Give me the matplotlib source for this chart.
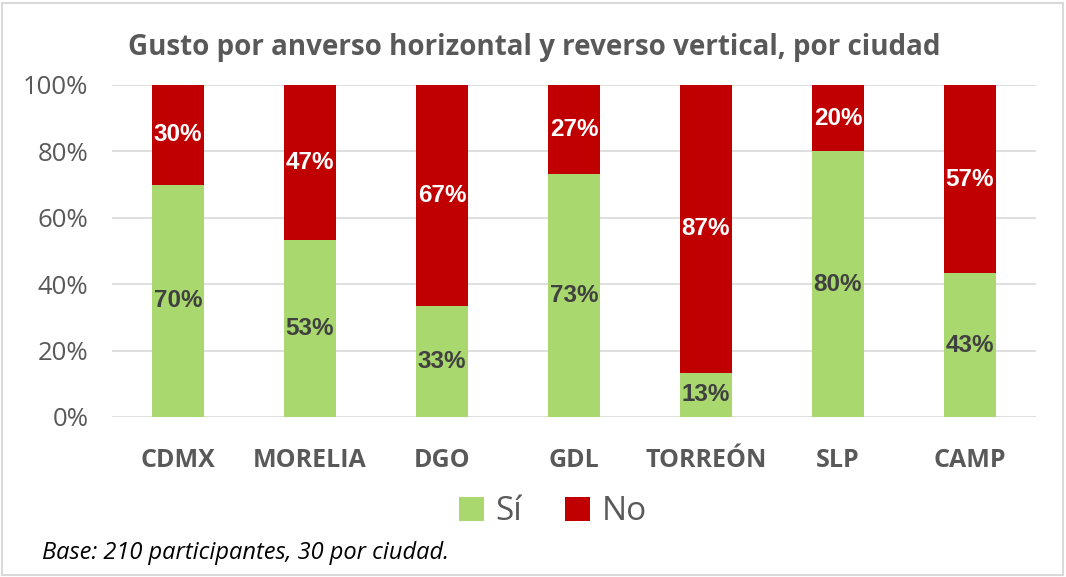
import matplotlib
matplotlib.use("Agg")
import matplotlib.pyplot as plt
from matplotlib import font_manager as fm
from matplotlib.patches import Rectangle

categories = ["CDMX", "MORELIA", "DGO", "GDL", "TORREÓN", "SLP", "CAMP"]
si_values = [70.0, 53.3, 33.3, 73.3, 13.3, 80.0, 43.3]
no_values = [30.0, 46.7, 66.7, 26.7, 86.7, 20.0, 56.7]
yticks = [0, 20, 40, 60, 80, 100]

names = {f.name for f in fm.fontManager.ttflist}
calib = "Liberation Sans Narrow" if "Liberation Sans Narrow" in names else "Open Sans"
arial = "Liberation Sans"

GREEN = "#A9D86E"
RED = "#C00000"
DARK = "#595959"

fig = plt.figure(figsize=(10.66, 5.77), dpi=100)
ax = fig.add_axes([112/1066, 1-417/577, (1036-112)/1066, 332/577])

x = list(range(len(categories)))
w = 0.39
ax.bar(x, si_values, width=w, color=GREEN, label="Sí", zorder=3)
ax.bar(x, no_values, width=w, bottom=si_values, color=RED, label="No", zorder=3)

for i in x:
    s = si_values[i]; n = no_values[i]
    ax.text(i, s/2, f"{round(s)}%", ha="center", va="center", fontsize=17.5,
            fontweight="bold", color="#404040", family=arial, zorder=4)
    ax.text(i, s + n/2, f"{round(n)}%", ha="center", va="center", fontsize=17.5,
            fontweight="bold", color="white", family=arial, zorder=4)

ax.set_xlim(-0.5, len(categories)-0.5)
ax.set_ylim(0, 100)
ax.set_yticks(yticks)
ax.set_yticklabels([f"{t}%" for t in yticks], fontsize=18.5, color=DARK, family=calib)
ax.set_xticks(x)
ax.set_xticklabels(categories, fontsize=18, fontweight="bold", color=DARK, family=calib)
ax.tick_params(axis="both", length=0)
ax.tick_params(axis="x", pad=22)
ax.tick_params(axis="y", pad=17)
ax.grid(axis="y", color="#D9D9D9", linewidth=1.2, zorder=0)
for sp in ax.spines.values():
    sp.set_visible(False)

fig.text(534/1066, 1-47/577, "Gusto por anverso horizontal y reverso vertical, por ciudad",
         ha="center", va="center", fontsize=20, fontweight="bold", color=DARK, family=calib)

leg = fig.legend(loc="center", bbox_to_anchor=(553/1066, 1-512/577), ncol=2, frameon=False,
                 handlelength=0.75, handleheight=0.75, columnspacing=1.3,
                 handletextpad=0.35, prop={"family": calib, "size": 24})
for t in leg.get_texts():
    t.set_color(DARK)

fig.text(42/1066, 1-553/577, "Base: 210 participantes, 30 por ciudad.", ha="left", va="center",
         fontsize=17, style="italic", color="black", family=calib)

fig.patches.append(Rectangle((2/1066, 2/577), 1061/1066, 572/577, transform=fig.transFigure,
                             fill=False, edgecolor="#D9D9D9", linewidth=1.5))

fig.savefig("out.png", dpi=100)
